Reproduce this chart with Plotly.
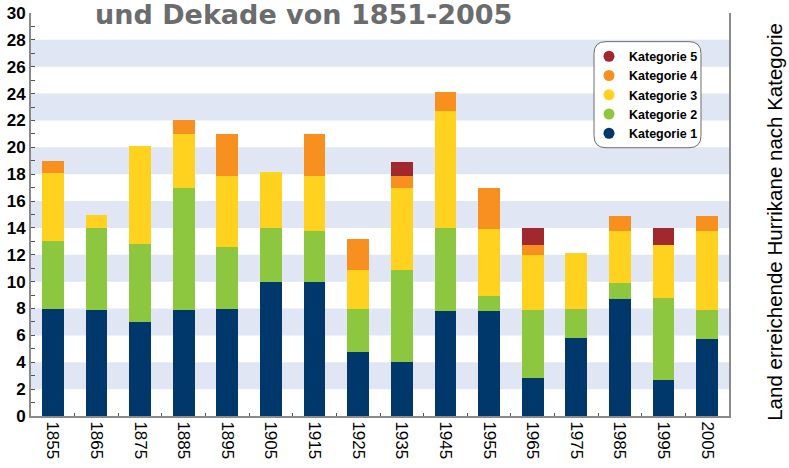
import plotly.graph_objects as go

decades = ["1855", "1865", "1875", "1885", "1895", "1905", "1915", "1925",
           "1935", "1945", "1955", "1965", "1975", "1985", "1995", "2005"]
kat1 = [8, 7.9, 7, 7.9, 8, 10, 10, 4.8, 4, 7.8, 7.8, 2.8, 5.8, 8.7, 2.7, 5.7]
kat2 = [5, 6.1, 5.8, 9.1, 4.6, 4, 3.8, 3.2, 6.9, 6.2, 1.1, 5.1, 2.2, 1.2, 6.1, 2.2]
kat3 = [5.1, 1, 7.3, 4, 5.3, 4.2, 4.1, 2.9, 6.1, 8.7, 5, 4.1, 4.1, 3.9, 3.9, 5.9]
kat4 = [0.9, 0, 0, 1, 3.1, 0, 3.1, 2.3, 0.9, 1.4, 3.1, 0.7, 0, 1.1, 0, 1.1]
kat5 = [0, 0, 0, 0, 0, 0, 0, 0, 1, 0, 0, 1.3, 0, 0, 1.3, 0]

series = [
    ("Kategorie 1", kat1, "#00386b"),
    ("Kategorie 2", kat2, "#8dc63f"),
    ("Kategorie 3", kat3, "#ffd21f"),
    ("Kategorie 4", kat4, "#f7901e"),
    ("Kategorie 5", kat5, "#a1282c"),
]

title_text = "und Dekade von 1851-2005"
y_title = "Land erreichende Hurrikane nach Kategorie"
band_ranges = [(2, 4), (6, 8), (10, 12), (14, 16), (18, 20), (22, 24), (26, 28)]

fig = go.Figure()
for name, vals, col in series:
    fig.add_trace(go.Bar(x=decades, y=vals, name=name, marker=dict(color=col, line=dict(width=0)),
                         showlegend=False))
# legend entries with round markers (top: Kategorie 5)
for name, vals, col in reversed(series):
    fig.add_trace(go.Scatter(x=[None], y=[None], mode="markers", name=name,
                             marker=dict(symbol="circle", size=11, color=col)))

W, H = 789, 468
L, R, T, B = 31, 729, 13.4, 416

def px_x(p):
    return (p - L) / (R - L)

def px_y(p):
    return (B - p) / (B - T)

shapes = []
for a, b in band_ranges:
    shapes.append(dict(type="rect", xref="paper", yref="y", x0=0, x1=1, y0=a, y1=b,
                       fillcolor="#e1e6f4", line=dict(width=0), layer="below"))

# rounded legend box
bx0, bx1, by0, by1, r = 594, 701, 42, 148, 12
path = (f"M {px_x(bx0+r)},{px_y(by0)} L {px_x(bx1-r)},{px_y(by0)} "
        f"Q {px_x(bx1)},{px_y(by0)} {px_x(bx1)},{px_y(by0+r)} "
        f"L {px_x(bx1)},{px_y(by1-r)} Q {px_x(bx1)},{px_y(by1)} {px_x(bx1-r)},{px_y(by1)} "
        f"L {px_x(bx0+r)},{px_y(by1)} Q {px_x(bx0)},{px_y(by1)} {px_x(bx0)},{px_y(by1-r)} "
        f"L {px_x(bx0)},{px_y(by0+r)} Q {px_x(bx0)},{px_y(by0)} {px_x(bx0+r)},{px_y(by0)} Z")
shapes.append(dict(type="path", xref="paper", yref="paper", path=path,
                   fillcolor="white", line=dict(color="#6d6d6d", width=1), layer="above"))

fig.update_layout(
    width=W, height=H,
    margin=dict(l=L, r=W - R, t=T, b=H - B, autoexpand=False),
    barmode="stack", bargap=0.5,
    plot_bgcolor="white", paper_bgcolor="white",
    font=dict(family="Liberation Sans, Arial, sans-serif", color="black"),
    shapes=shapes,
    showlegend=True,
    legend=dict(x=px_x(589), y=px_y(42), xanchor="left", yanchor="top",
                bgcolor="rgba(0,0,0,0)", borderwidth=0, traceorder="normal",
                font=dict(size=12.5, family="Liberation Sans, Arial, sans-serif", weight="bold"),
                itemwidth=30, tracegroupgap=0),
    xaxis=dict(type="category", range=[-0.5, 15.5], tickangle=90, automargin=False,
               tickfont=dict(size=17), showline=True, linecolor="#8a8a8a", linewidth=2,
               ticks="inside", tickson="boundaries", ticklen=3, tickcolor="#555",
               showgrid=False, zeroline=False),
    yaxis=dict(range=[0, 30], dtick=2, tick0=0, tickfont=dict(size=17, weight="bold"),
               automargin=False,
               showline=True, linecolor="#8a8a8a", linewidth=2, mirror=True,
               ticks="inside", ticklen=4, tickcolor="#555",
               minor=dict(dtick=1, ticks="inside", ticklen=4, tickcolor="#555"),
               showgrid=False, zeroline=False),
    annotations=[
        dict(text=title_text, xref="paper", yref="paper", x=px_x(303), y=px_y(15),
             xanchor="center", yanchor="middle", showarrow=False,
             font=dict(size=27, color="#6b6c6e", family="DejaVu Sans, sans-serif",
                       weight="bold")),
        dict(text=y_title, xref="paper", yref="paper", x=px_x(775), y=px_y(222),
             xanchor="center", yanchor="middle", showarrow=False, textangle=-90,
             font=dict(size=20.5, color="black")),
    ],
)

fig.write_html("out.html", config={"displayModeBar": False},
               post_script="document.body.style.margin='0';document.body.style.padding='0';")
